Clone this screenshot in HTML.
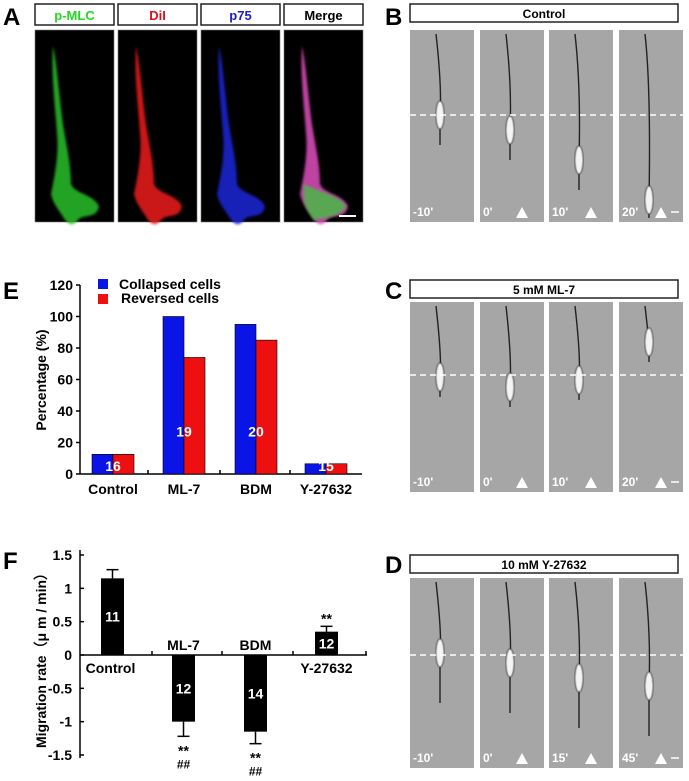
<!DOCTYPE html>
<html><head><meta charset="utf-8">
<style>
body{margin:0;background:#fff;font-family:"Liberation Sans",Arial,sans-serif;}
#root{position:relative;width:689px;height:781px;overflow:hidden;}
svg text{font-family:"Liberation Sans",Arial,sans-serif;font-weight:bold;}
</style></head>
<body>
<div id="root">
<svg id="fig" width="689" height="781" viewBox="0 0 689 781" xmlns="http://www.w3.org/2000/svg">
<defs>
<filter id="blur1"><feGaussianBlur stdDeviation="1.2"/></filter>
<filter id="blur2"><feGaussianBlur stdDeviation="0.6"/></filter>
</defs>
<text x="3" y="25" font-size="24">A</text>
<text x="385" y="25" font-size="24">B</text>
<text x="385" y="299" font-size="24">C</text>
<text x="3" y="299" font-size="24">E</text>
<text x="3" y="569" font-size="24">F</text>
<text x="385" y="573" font-size="24">D</text>
<g id="panelA"></g>
<g id="panelB"></g>
<g id="panelC"></g>
<g id="panelD"></g>
<g id="chartE"></g>
<g id="chartF"></g>
</svg>
</div>
<script>
// ---- Chart E data ----
const eCategories = ["Control","ML-7","BDM","Y-27632"];
const eCollapsed = [12.5,100,95,6.5];
const eReversed = [12.5,74,85,6.5];
const eCounts = ["16","19","20","15"];
const eTicks = [0,20,40,60,80,100,120];
// ---- Chart F data ----
const fCategories = ["Control","ML-7","BDM","Y-27632"];
const fMeans = [1.15,-1.0,-1.15,0.35];
const fErrors = [0.13,0.22,0.18,0.08];
const fCounts = ["11","12","14","12"];
const fTicks = [1.5,1,0.5,0,-0.5,-1,-1.5];
const fTickLabels = ["1.5","1","0.5","0","-0.5","-1","-1.5"];
const fStars = ["","** ##","** ##","**"];

const NS="http://www.w3.org/2000/svg";
function mk(tag,attrs,parent,txt){const e=document.createElementNS(NS,tag);for(const k in attrs)e.setAttribute(k,attrs[k]);if(txt!==undefined)e.textContent=txt;parent.appendChild(e);return e;}

// ---------- Panel A ----------
const A=document.getElementById('panelA');
const aLabels=["p-MLC","DiI","p75","Merge"];
const aColors=["#22d822","#e0101a","#1a1ad0","#000"];
const aFill=["#2cc02c","#ee1a1a","#1a28d8","#e050c0"];
const aX=[35,118,201,284];
const cellPath="M12,12 C16,30 18,60 22,90 C26,115 30,130 30,150 C34,160 52,160 58,172 C56,185 44,180 38,185 C32,192 30,192 24,186 C18,176 12,170 10,160 C14,140 18,120 16,100 C14,70 10,40 12,12 Z";
aX.forEach((x,i)=>{
  const hb=mk('rect',{x:x,y:4,width:79,height:21,fill:'#fff',stroke:'#222','stroke-width':1.5},A);
  
  
  const t=mk('text',{x:x+39.5,y:20,'text-anchor':'middle','font-size':13,fill:aColors[i]},A,aLabels[i]);
  
  
  const im=mk('rect',{x:x,y:30,width:79,height:192,fill:'#000',stroke:'#777','stroke-width':0.6},A);
  
  
  const c=mk('path',{d:cellPath,transform:'translate('+(x+6)+',34)',fill:aFill[i],opacity:0.85,filter:'url(#blur1)'},A);
  
  
  if(i===3){const g=mk('path',{d:"M14,150 C30,158 50,162 56,172 C52,182 36,184 24,186 C16,176 12,168 14,150 Z",transform:'translate('+(x+6)+',34)',fill:'#40c040',opacity:0.8,filter:'url(#blur1)'},A);
    
    const sb=mk('line',{x1:x+55,y1:216,x2:x+72,y2:216,stroke:'#fff','stroke-width':2},A);
    }
});

// ---------- Phase contrast panels ----------
function phasePanel(g,title,hy,iy,ih,times,dashY,cellYs,ext){
  const hb=mk('rect',{x:410,y:hy,width:268,height:18,fill:'#fff',stroke:'#222','stroke-width':1.5},g);
  
  const ht=mk('text',{x:544,y:hy+14,'text-anchor':'middle','font-size':12},g,title);
  
  const xs=[410,480,549,619];
  xs.forEach((x,i)=>{
    const r=mk('rect',{x:x,y:iy,width:64,height:ih,fill:'#a6a6a6'},g);
    
    const cx=x+30, cy=iy+cellYs[i];
    const endY=Math.min(cy+ext,iy+ih-4);
    const ln=mk('path',{d:'M'+(cx-4)+','+(iy+4)+' Q'+(cx+2)+','+(iy+ih*0.3)+' '+cx+','+cy+' L'+cx+','+endY,stroke:'#222','stroke-width':1.4,fill:'none'},g);
    
    const b=mk('ellipse',{cx:cx,cy:cy,rx:4,ry:14,fill:'#f4f4f4',stroke:'#333','stroke-width':1,filter:'url(#blur2)'},g);
    
    const tt=mk('text',{x:x+3,y:iy+ih-6,'font-size':12,fill:'#fff'},g,times[i]);
    
    if(i>0){const ar=mk('path',{d:'M'+(x+36)+','+(iy+ih-4)+' l6,-11 l6,11 z',fill:'#fff'},g);
      }
    if(i===3){const sb=mk('line',{x1:x+52,y1:iy+ih-10,x2:x+60,y2:iy+ih-10,stroke:'#fff','stroke-width':1.5},g);
      }
  });
  const d=mk('line',{x1:410,y1:dashY,x2:683,y2:dashY,stroke:'#fff','stroke-width':1.5,'stroke-dasharray':'6,4'},g);
  
}
phasePanel(document.getElementById('panelB'),'Control',4,30,192,["-10'","0'","10'","20'"],115,[85,100,130,170],30);
phasePanel(document.getElementById('panelC'),'5 mM ML-7',280,302,190,["-10'","0'","10'","20'"],375,[75,85,78,40],20);
phasePanel(document.getElementById('panelD'),'10 mM Y-27632',555,578,190,["-10'","0'","15'","45'"],655,[75,85,100,108],50);

// ---------- Chart E ----------
(function(){
  const g=document.getElementById('chartE');
  const x0=80,x1=362,y0=474,yTop=285;
  const ys=v=>y0-(v/120)*(y0-yTop);
  const groupStart=[92,163,235,305], bw=21;
  const ax=mk('line',{x1:x0,y1:yTop,x2:x0,y2:y0,stroke:'#000','stroke-width':1.5},g);
  
  const xa=mk('line',{x1:x0,y1:y0,x2:x1,y2:y0,stroke:'#000','stroke-width':1.5},g);
  
  eTicks.forEach(v=>{
    const tk=mk('line',{x1:x0-4,y1:ys(v),x2:x0,y2:ys(v),stroke:'#000','stroke-width':1.5},g);
    
    const tl=mk('text',{x:x0-7,y:ys(v)+5,'text-anchor':'end','font-size':14},g,String(v));
    
  });
  [148,220,290].forEach(x=>{const t=mk('line',{x1:x,y1:y0,x2:x,y2:y0-4,stroke:'#000','stroke-width':1.5},g);
    });
  eCategories.forEach((c,i)=>{
    const bx=groupStart[i];
    const b1=mk('rect',{x:bx,y:ys(eCollapsed[i]),width:bw,height:y0-ys(eCollapsed[i]),fill:'#0a14e6',stroke:'#000','stroke-width':0.6},g);
    
    const b2=mk('rect',{x:bx+bw,y:ys(eReversed[i]),width:bw,height:y0-ys(eReversed[i]),fill:'#ee1010',stroke:'#000','stroke-width':0.6},g);
    
    const ny=(eCollapsed[i]>30)?ys(27)+5:y0-3;
    const nt=mk('text',{x:bx+bw,y:ny,'text-anchor':'middle','font-size':14,fill:'#fff'},g,eCounts[i]);
    
    const cl=mk('text',{x:bx+bw,y:494,'text-anchor':'middle','font-size':14},g,c);
    
  });
  const yl=mk('text',{x:0,y:0,'text-anchor':'middle','font-size':14,transform:'translate(46,380) rotate(-90)'},g,'Percentage (%)');
  
  const l1=mk('rect',{x:98,y:279,width:10,height:10,fill:'#0a14e6'},g);
  
  const lt1=mk('text',{x:119,y:289,'font-size':14},g,'Collapsed cells');
  
  const l2=mk('rect',{x:98,y:294,width:10,height:10,fill:'#ee1010'},g);
  
  const lt2=mk('text',{x:121,y:303,'font-size':14},g,'Reversed cells');
  
})();

// ---------- Chart F ----------
(function(){
  const g=document.getElementById('chartF');
  const x0=80,x1=367,yz=655,yTop=555,yBot=758;
  const ys=v=>yz-v*((yz-yTop)/1.5);
  const bx=[101,172,244,315], bw=23;
  const ax=mk('line',{x1:x0,y1:yTop-5,x2:x0,y2:yBot,stroke:'#000','stroke-width':1.5},g);
  
  const xa=mk('line',{x1:x0,y1:yz,x2:x1,y2:yz,stroke:'#000','stroke-width':1.5},g);
  
  fTicks.forEach((v,i)=>{
    const tk=mk('line',{x1:x0,y1:ys(v),x2:x0+4,y2:ys(v),stroke:'#000','stroke-width':1.5},g);
    
    const tl=mk('text',{x:x0-8,y:ys(v)+5,'text-anchor':'end','font-size':14},g,fTickLabels[i]);
    
  });
  [152,222,293,366].forEach(x=>{const t=mk('line',{x1:x,y1:yz,x2:x,y2:yz-4,stroke:'#000','stroke-width':1.5},g);
    });
  fCategories.forEach((c,i)=>{
    const v=fMeans[i], top=Math.min(ys(v),yz), h=Math.abs(ys(v)-yz);
    const b=mk('rect',{x:bx[i],y:top,width:bw,height:h,fill:'#000'},g);
    
    const cx=bx[i]+bw/2, ee=ys(v+Math.sign(v)*fErrors[i]);
    const el=mk('line',{x1:cx,y1:ys(v),x2:cx,y2:ee,stroke:'#000','stroke-width':1.5},g);
    
    const ec=mk('line',{x1:cx-6,y1:ee,x2:cx+6,y2:ee,stroke:'#000','stroke-width':1.5},g);
    
    const nt=mk('text',{x:cx,y:ys(v/2)+5,'text-anchor':'middle','font-size':14,fill:'#fff'},g,fCounts[i]);
    
    const cl=mk('text',{x:v>0?cx+(i===0?-2:0):cx,y:v>0?yz+18:yz-5,'text-anchor':'middle','font-size':14},g,c);
    
    const st=fStars[i].split(' ');
    if(st[0]){
      if(v>0){const s=mk('text',{x:cx,y:ee-3,'text-anchor':'middle','font-size':14},g,st[0]);
        }
      else{const s=mk('text',{x:cx,y:ee+19,'text-anchor':'middle','font-size':14},g,st[0]);
        
        const s2=mk('text',{x:cx,y:ee+32,'text-anchor':'middle','font-size':12},g,st[1]);
        }
    }
  });
  const yl=mk('text',{x:0,y:0,'text-anchor':'middle','font-size':14,transform:'translate(46,657) rotate(-90)'},g,'Migration rate（μ m / min）');
  
})();
</script>
</body></html>
